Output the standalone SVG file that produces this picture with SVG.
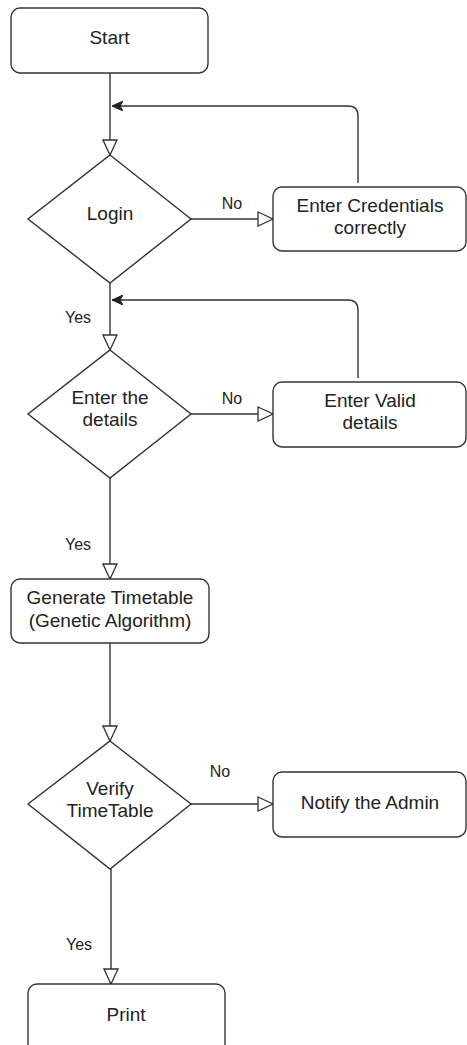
<svg xmlns="http://www.w3.org/2000/svg" width="467" height="1045" viewBox="0 0 467 1045">
<style>
.box{fill:#fff;stroke:#333;stroke-width:1.4}
.t{font-family:"Liberation Sans",Arial,sans-serif;font-size:19px;fill:#222;text-anchor:middle}
.lbl{font-family:"Liberation Sans",Arial,sans-serif;font-size:16px;fill:#222;text-anchor:middle}
.edge{fill:none;stroke:#333;stroke-width:1.4}
</style>
<defs>
<marker id="hollow" viewBox="-1 -1 17 16" refX="15" refY="7" markerWidth="17" markerHeight="16" markerUnits="userSpaceOnUse" orient="auto">
<path d="M0,0 L15,7 L0,14 Z" fill="#fff" stroke="#333" stroke-width="1.3"/>
</marker>
<marker id="solid" viewBox="0 0 12 10" refX="11" refY="5" markerWidth="12" markerHeight="10" markerUnits="userSpaceOnUse" orient="auto">
<path d="M0,0 L11,5 L0,10 L3,5 Z" fill="#222" stroke="#222" stroke-width="1"/>
</marker>
</defs>
<rect width="467" height="1045" fill="#fff"/>
<g id="connectors">
<path class="edge" d="M110,73 L110,155" marker-end="url(#hollow)"/>
<path class="edge" d="M358,183 L358,116 Q358,106 348,106 L112,106" marker-end="url(#solid)"/>
<path class="edge" d="M191,219 L273,219" marker-end="url(#hollow)"/>
<path class="edge" d="M110,283 L110,350" marker-end="url(#hollow)"/>
<path class="edge" d="M358,378 L358,310 Q358,300 348,300 L112,300" marker-end="url(#solid)"/>
<path class="edge" d="M191,414 L273,414" marker-end="url(#hollow)"/>
<path class="edge" d="M110,478 L110,579" marker-end="url(#hollow)"/>
<path class="edge" d="M110,643 L110,741" marker-end="url(#hollow)"/>
<path class="edge" d="M191,804 L273,804" marker-end="url(#hollow)"/>
<path class="edge" d="M111,869 L111,984" marker-end="url(#hollow)"/>
<text class="lbl" x="232" y="209">No</text>
<text class="lbl" x="78" y="323">Yes</text>
<text class="lbl" x="232" y="404">No</text>
<text class="lbl" x="78" y="550">Yes</text>
<text class="lbl" x="220" y="777">No</text>
<text class="lbl" x="79" y="950">Yes</text>
</g>
<g id="start">
<rect class="box" x="11" y="8" width="197" height="65" rx="9"/>
<text class="t" x="109.5" y="44">Start</text>
</g>
<g id="login">
<polygon class="box" points="110,155 191,219 110,283 28,219"/>
<text class="t" x="110" y="220">Login</text>
</g>
<g id="enter-credentials">
<rect class="box" x="273" y="187" width="193" height="64" rx="9"/>
<text class="t" x="370" y="212">Enter Credentials</text>
<text class="t" x="370" y="234">correctly</text>
</g>
<g id="enter-details">
<polygon class="box" points="110,350 191,414 110,478 28,414"/>
<text class="t" x="110" y="404">Enter the</text>
<text class="t" x="110" y="426">details</text>
</g>
<g id="enter-valid">
<rect class="box" x="273" y="382" width="193" height="65" rx="9"/>
<text class="t" x="370" y="407">Enter Valid</text>
<text class="t" x="370" y="429">details</text>
</g>
<g id="generate">
<rect class="box" x="11" y="579" width="198" height="64" rx="9"/>
<text class="t" x="110" y="604">Generate Timetable</text>
<text class="t" x="110" y="627">(Genetic Algorithm)</text>
</g>
<g id="verify">
<polygon class="box" points="110,741 191,804 110,869 28,804"/>
<text class="t" x="110" y="795">Verify</text>
<text class="t" x="110" y="817">TimeTable</text>
</g>
<g id="notify">
<rect class="box" x="273" y="772" width="193" height="65" rx="9"/>
<text class="t" x="370" y="809">Notify the Admin</text>
</g>
<g id="print">
<rect class="box" x="28" y="984" width="197" height="70" rx="9"/>
<text class="t" x="126" y="1021">Print</text>
</g>
</svg>
